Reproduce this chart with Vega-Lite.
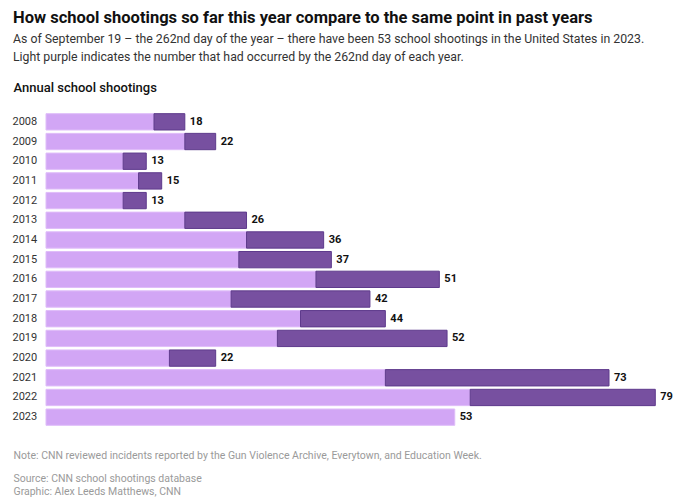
{
  "$schema": "https://vega.github.io/schema/vega-lite/v6.json",
  "autosize": {"type": "none"},
  "padding": {"left": 46, "top": 112, "right": 15, "bottom": 73},
  "width": 617,
  "height": 315,
  "background": "white",
  "config": {
    "view": {"stroke": null},
    "font": "Roboto"
  },
  "title": {
    "text": "How school shootings so far this year compare to the same point in past years",
    "subtitle": [
      "As of September 19 – the 262nd day of the year – there have been 53 school shootings in the United States in 2023.",
      "Light purple indicates the number that had occurred by the 262nd day of each year."
    ],
    "anchor": "start",
    "frame": "group",
    "dx": -33,
    "font": "Roboto",
    "fontSize": 16.5,
    "fontWeight": "bold",
    "color": "#111111",
    "subtitleFont": "Roboto",
    "subtitleFontSize": 12.3,
    "subtitleColor": "#333333",
    "subtitleLineHeight": 18,
    "subtitlePadding": 6,
    "offset": 18
  },
  "data": {
    "values": [
      {"year": "2008", "early": 14, "total": 18},
      {"year": "2009", "early": 18, "total": 22},
      {"year": "2010", "early": 10, "total": 13},
      {"year": "2011", "early": 12, "total": 15},
      {"year": "2012", "early": 10, "total": 13},
      {"year": "2013", "early": 18, "total": 26},
      {"year": "2014", "early": 26, "total": 36},
      {"year": "2015", "early": 25, "total": 37},
      {"year": "2016", "early": 35, "total": 51},
      {"year": "2017", "early": 24, "total": 42},
      {"year": "2018", "early": 33, "total": 44},
      {"year": "2019", "early": 30, "total": 52},
      {"year": "2020", "early": 16, "total": 22},
      {"year": "2021", "early": 44, "total": 73},
      {"year": "2022", "early": 55, "total": 79},
      {"year": "2023", "early": 53, "total": 53}
    ]
  },
  "encoding": {
    "y": {
      "field": "year",
      "type": "ordinal",
      "sort": null,
      "scale": {"paddingInner": 0.17, "paddingOuter": 0.085},
      "axis": {
        "title": "Annual school shootings",
        "titleAngle": 0,
        "titleAlign": "left",
        "titleBaseline": "middle",
        "titleX": -33,
        "titleY": -25,
        "titleFont": "Roboto",
        "titleFontSize": 13,
        "titleFontWeight": 500,
        "titleColor": "#111111",
        "labelAlign": "left",
        "labelPadding": 34,
        "labelFont": "Roboto",
        "labelFontSize": 11,
        "labelColor": "#333333",
        "ticks": false,
        "tickSize": 0,
        "domain": false,
        "grid": false
      }
    }
  },
  "resolve": {"axis": {"x": "independent"}},
  "layer": [
    {
      "mark": {"type": "bar", "color": "#d2a6f5", "stroke": "#dfbdf9", "strokeWidth": 1},
      "encoding": {
        "x": {
          "field": "early",
          "type": "quantitative",
          "scale": {"domain": [0, 80], "nice": false},
          "axis": {
            "orient": "bottom",
            "title": "Note: CNN reviewed incidents reported by the Gun Violence Archive, Everytown, and Education Week.",
            "titleAnchor": "start",
            "titleAlign": "left",
            "titleBaseline": "top",
            "titleX": -33,
            "titleY": 23,
            "titleFont": "Roboto",
            "titleFontSize": 10.5,
            "titleFontWeight": "normal",
            "titleColor": "#9a9a9a",
            "labels": false,
            "ticks": false,
            "domain": false,
            "grid": false
          }
        }
      }
    },
    {
      "transform": [{"filter": "datum.total > datum.early"}],
      "mark": {"type": "bar", "color": "#7750a0", "stroke": "#5e3a8c", "strokeWidth": 1},
      "encoding": {
        "x": {
          "field": "early",
          "type": "quantitative",
          "axis": {
            "orient": "bottom",
            "title": [
              "Source: CNN school shootings database",
              "Graphic: Alex Leeds Matthews, CNN"
            ],
            "titleAnchor": "start",
            "titleAlign": "left",
            "titleBaseline": "top",
            "titleX": -33,
            "titleY": 46,
            "titleFont": "Roboto",
            "titleFontSize": 10.5,
            "titleFontWeight": "normal",
            "titleColor": "#9a9a9a",
            "titleLineHeight": 13,
            "labels": false,
            "ticks": false,
            "domain": false,
            "grid": false
          }
        },
        "x2": {"field": "total"}
      }
    },
    {
      "mark": {"type": "text", "align": "left", "baseline": "middle", "dx": 5, "font": "Roboto", "fontSize": 11, "fontWeight": "bold", "color": "#111111"},
      "encoding": {
        "x": {"field": "total", "type": "quantitative", "axis": null},
        "text": {"field": "total", "type": "quantitative"}
      }
    }
  ]
}
